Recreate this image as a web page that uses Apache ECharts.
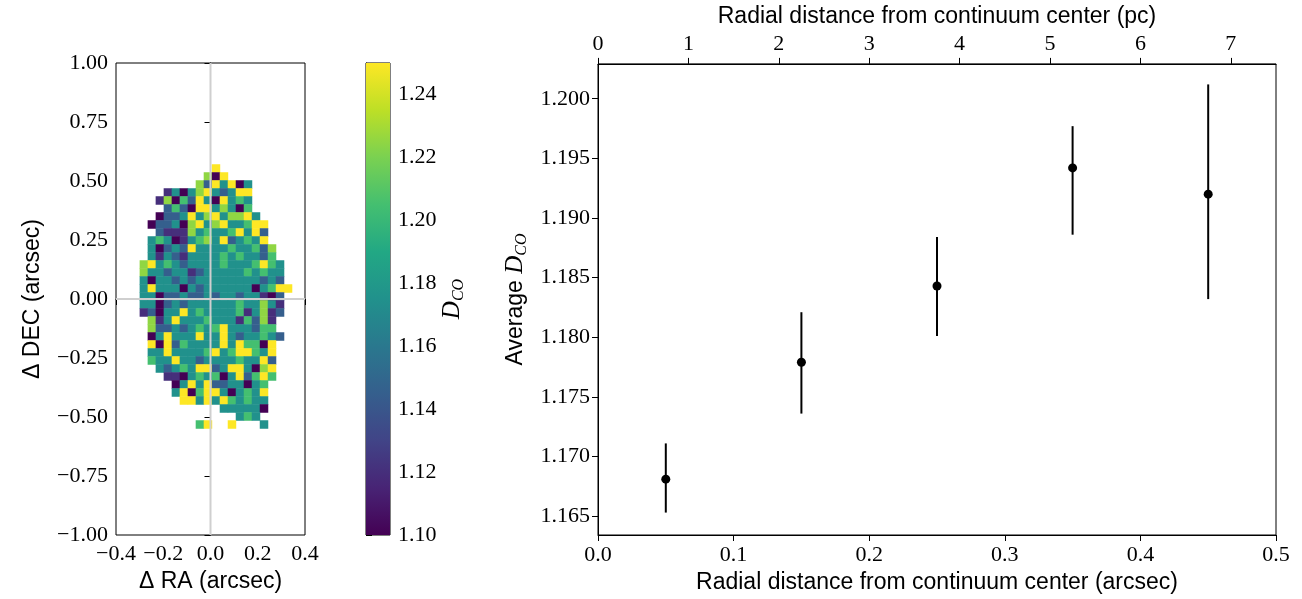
<!DOCTYPE html>
<html><head><meta charset="utf-8">
<script src="https://cdn.jsdelivr.net/npm/echarts@6/dist/echarts.min.js"></script>
<style>html,body{margin:0;padding:0;background:#fff}#c{width:1302px;height:599px}</style>
</head><body><div id="c"></div>
<script>
const _ = null;
// D_CO map, top row first, 19 columns (null = no data)
const mapRows = [
[_,_,_,_,_,_,_,_,_,1.25,_,_,_,_,_,_,_,_,_],
[_,_,_,_,_,_,_,_,1.225,1.10,1.25,_,_,_,_,_,_,_,_],
[_,_,_,_,_,_,_,1.225,1.145,1.25,1.175,1.25,1.10,1.175,_,_,_,_,_],
[_,_,_,1.12,1.175,1.10,1.175,1.225,1.25,1.175,1.145,1.175,1.25,1.25,_,_,_,_,_],
[_,_,1.12,1.225,1.10,1.205,1.145,1.25,1.175,1.10,1.25,1.175,1.205,1.175,_,_,_,_,_],
[_,_,_,1.145,1.205,1.145,1.10,1.25,1.25,1.175,1.225,1.175,1.10,1.205,_,_,_,_,_],
[_,_,1.10,1.145,1.145,1.175,1.25,1.175,1.225,1.25,1.175,1.225,1.225,1.25,1.175,_,_,_,_],
[_,1.10,1.145,1.145,1.175,1.10,1.225,1.25,1.175,1.225,1.25,1.175,1.175,1.205,1.25,1.25,_,_,_],
[_,_,1.145,1.12,1.12,1.12,1.225,1.175,1.205,1.175,1.175,1.205,1.25,1.175,1.25,1.145,_,_,_],
[_,1.175,1.205,1.175,1.10,1.12,1.175,1.205,1.225,1.175,1.25,1.145,1.175,1.205,1.175,1.25,_,_,_],
[_,1.175,1.10,1.145,1.175,1.145,1.25,1.175,1.175,1.175,1.175,1.205,1.175,1.175,1.205,1.145,1.225,_,_],
[_,1.175,1.12,1.175,1.145,1.12,1.175,1.175,1.175,1.175,1.205,1.175,1.205,1.175,1.175,1.145,1.205,_,_],
[1.225,1.25,1.175,1.205,1.175,1.145,1.175,1.175,1.175,1.175,1.205,1.175,1.175,1.175,1.205,1.25,1.205,1.175,_],
[1.225,1.175,1.175,1.145,1.175,1.175,1.12,1.145,1.175,1.175,1.175,1.175,1.175,1.205,1.175,1.205,1.175,1.175,_],
[1.175,1.10,1.175,1.175,1.145,1.175,1.145,1.175,1.175,1.175,1.175,1.175,1.175,1.175,1.175,1.145,1.175,1.145,_],
[1.175,1.25,1.175,1.175,1.175,1.10,1.175,1.145,1.175,1.175,1.175,1.175,1.175,1.175,1.10,1.175,1.205,1.25,1.25],
[1.175,1.175,1.10,1.145,1.145,1.175,1.145,1.145,1.175,1.145,1.175,1.175,1.145,1.175,1.175,1.12,1.10,1.145,_],
[1.175,1.175,1.10,1.145,1.175,1.145,1.175,1.175,1.175,1.175,1.175,1.175,1.205,1.175,1.175,1.225,1.175,1.12,_],
[1.12,1.145,1.10,1.175,1.175,1.25,1.175,1.205,1.175,1.175,1.175,1.175,1.205,1.12,1.175,1.225,1.12,1.145,_],
[_,1.225,1.12,1.175,1.25,1.175,1.175,1.175,1.205,1.175,1.175,1.175,1.12,1.205,1.145,1.225,1.12,_,_],
[_,1.225,1.145,1.145,1.175,1.145,1.175,1.205,1.175,1.205,1.25,1.175,1.175,1.175,1.145,1.205,1.205,_,_],
[_,1.10,1.175,1.25,1.175,1.175,1.175,1.25,1.175,1.175,1.25,1.175,1.145,1.175,1.175,1.205,1.175,1.145,_],
[_,1.25,1.10,1.25,1.145,1.205,1.175,1.175,1.175,1.175,1.25,1.175,1.25,1.205,1.205,1.10,1.25,_,_],
[_,1.175,1.175,1.25,1.175,1.175,1.175,1.175,1.205,1.25,1.175,1.205,1.25,1.25,1.205,1.175,1.25,_,_],
[_,1.205,1.175,1.175,1.25,1.175,1.175,1.145,1.175,1.175,1.175,1.175,1.205,1.175,1.175,1.25,1.145,_,_],
[_,_,1.175,1.145,1.175,1.205,1.175,1.25,1.25,1.145,1.175,1.25,1.25,1.175,1.10,1.225,1.25,_,_],
[_,_,_,1.12,1.12,1.10,1.175,1.205,1.175,1.205,1.10,1.175,1.25,1.145,1.205,1.25,1.205,_,_],
[_,_,_,_,1.10,1.175,1.25,1.175,1.25,1.145,1.145,1.175,1.175,1.10,1.175,1.205,_,_,_],
[_,_,_,_,1.175,1.25,1.10,1.205,1.25,1.25,1.175,1.10,1.175,1.205,1.175,1.25,_,_,_],
[_,_,_,_,_,1.25,1.25,1.175,1.25,1.175,1.25,1.205,1.175,1.205,1.175,1.175,_,_,_],
[_,_,_,_,_,_,_,_,_,_,1.175,1.175,1.175,1.175,1.175,1.10,_,_,_],
[_,_,_,_,_,_,_,_,_,_,_,_,1.175,1.205,1.175,_,_,_,_],
[_,_,_,_,_,_,_,1.205,1.25,_,_,1.25,_,_,_,1.175,_,_,_]
];
const mapCellSize = 0.0339;   // arcsec per map pixel
const mapLeftEdge = -0.300;   // arcsec, RA of left edge of column 0
const mapTopEdge = 0.571;     // arcsec, DEC of top edge of row 0

const radialArcsec = [0.05, 0.15, 0.25, 0.35, 0.45];
const avgDco = [1.1681, 1.1779, 1.1843, 1.1942, 1.1920];
const avgDcoLow = [1.1653, 1.1736, 1.1801, 1.1886, 1.1832];
const avgDcoHigh = [1.1711, 1.1821, 1.1884, 1.1977, 1.2012];

const mapXTicks = [-0.4, -0.2, 0.0, 0.2, 0.4];
const mapYTicks = [-1.0, -0.75, -0.5, -0.25, 0.0, 0.25, 0.5, 0.75, 1.0];
const cbarTicks = [1.10, 1.12, 1.14, 1.16, 1.18, 1.20, 1.22, 1.24];
const avgYTicks = [1.165, 1.170, 1.175, 1.180, 1.185, 1.190, 1.195, 1.200];
const arcsecTicks = [0.0, 0.1, 0.2, 0.3, 0.4, 0.5];
const pcTicks = [0, 1, 2, 3, 4, 5, 6, 7];

const viridis = ['#440154','#482475','#414487','#355f8d','#2a788e','#21918c','#22a884','#44bf70','#7ad151','#bddf26','#fde725'];

const mapData = [];
mapRows.forEach((row, r) => row.forEach((v, c) => {
  if (v !== null) mapData.push([mapLeftEdge + mapCellSize * (c + 0.5), mapTopEdge - mapCellSize * (r + 0.5), v]);
}));

const SERIF = '"Liberation Serif", "DejaVu Serif", serif';
const SANS = '"Liberation Sans", "DejaVu Sans", sans-serif';
const minus = s => s.replace('-', '\u2212');
const tickLbl = (digits) => ({ fontFamily: SERIF, fontSize: 22, color: '#000', formatter: v => minus(Number(v).toFixed(digits)) });
const axisCommon = {
  axisLine: { show: true, lineStyle: { color: '#000', width: 1 } },
  axisTick: { show: true, length: 6, lineStyle: { color: '#000', width: 1 } },
  splitLine: { show: false },
  nameTextStyle: { fontFamily: SANS, fontSize: 23, color: '#000' }
};
const subRich = {
  a: { fontFamily: SANS, fontSize: 23, color: '#000' },
  d: { fontFamily: SERIF, fontStyle: 'italic', fontSize: 25, color: '#000' },
  s: { fontFamily: SERIF, fontStyle: 'italic', fontSize: 16, color: '#000', padding: [12, 0, 0, 0] }
};

const chart = echarts.init(document.getElementById('c'), null, { renderer: 'canvas' });
chart.setOption({
  animation: false,
  backgroundColor: '#fff',
  grid: [
    { left: 116, top: 63, width: 189, height: 472, show: true, borderColor: '#000', borderWidth: 1, backgroundColor: 'transparent' },
    { left: 366, top: 63, width: 24, height: 472, show: true, borderColor: '#000', borderWidth: 1, backgroundColor: 'transparent' },
    { left: 598, top: 60, width: 678, height: 475, show: true, borderColor: '#000', borderWidth: 1, backgroundColor: 'transparent' }
  ],
  visualMap: {
    type: 'continuous', show: false, min: 1.10, max: 1.25, dimension: 2, seriesIndex: 0,
    inRange: { color: viridis }
  },
  xAxis: [
    Object.assign({}, axisCommon, { gridIndex: 0, type: 'value', min: -0.4, max: 0.4, interval: 0.2,
      axisLabel: Object.assign(tickLbl(1), { margin: 8, customValues: mapXTicks }), axisTick: Object.assign({}, axisCommon.axisTick, { customValues: mapXTicks }),
      name: 'Δ RA (arcsec)', nameLocation: 'middle', nameGap: 33 }),
    { gridIndex: 1, type: 'value', min: 0, max: 1, show: false },
    Object.assign({}, axisCommon, { gridIndex: 2, type: 'value', min: 0, max: 0.5,
      axisLabel: Object.assign(tickLbl(1), { margin: 9, customValues: arcsecTicks }), axisTick: Object.assign({}, axisCommon.axisTick, { customValues: arcsecTicks }),
      name: 'Radial distance from continuum center (arcsec)', nameLocation: 'middle', nameGap: 33 }),
    Object.assign({}, axisCommon, { gridIndex: 2, type: 'value', position: 'top', min: 0, max: 7.5,
      axisLabel: Object.assign(tickLbl(0), { margin: 9, customValues: pcTicks }), axisTick: Object.assign({}, axisCommon.axisTick, { customValues: pcTicks }),
      name: 'Radial distance from continuum center (pc)', nameLocation: 'middle', nameGap: 32 })
  ],
  yAxis: [
    Object.assign({}, axisCommon, { gridIndex: 0, type: 'value', min: -1, max: 1, interval: 0.25,
      axisLabel: Object.assign(tickLbl(2), { margin: 8, customValues: mapYTicks }), axisTick: Object.assign({}, axisCommon.axisTick, { customValues: mapYTicks }),
      name: 'Δ DEC (arcsec)', nameLocation: 'middle', nameRotate: 90, nameGap: 72 }),
    Object.assign({}, axisCommon, { gridIndex: 1, type: 'value', position: 'right', min: 1.10, max: 1.25,
      axisLabel: Object.assign(tickLbl(2), { margin: 8, customValues: cbarTicks }), axisTick: Object.assign({}, axisCommon.axisTick, { customValues: cbarTicks }),
      name: '{d|D}{s|CO}', nameLocation: 'middle', nameRotate: 90, nameGap: 48, nameTextStyle: { rich: subRich } }),
    Object.assign({}, axisCommon, { gridIndex: 2, type: 'value', min: 1.16342, max: 1.20292,
      axisLabel: Object.assign(tickLbl(3), { margin: 8, customValues: avgYTicks }), axisTick: Object.assign({}, axisCommon.axisTick, { customValues: avgYTicks }),
      name: '{a|Average }{d|D}{s|CO}', nameLocation: 'middle', nameRotate: 90, nameGap: 68, nameTextStyle: { rich: subRich } })
  ],
  series: [
    {
      type: 'custom', xAxisIndex: 0, yAxisIndex: 0, data: mapData, encode: { x: 0, y: 1 }, z: 2,
      renderItem: (params, api) => {
        const x = api.value(0), y = api.value(1), h = mapCellSize / 2;
        const p1 = api.coord([x - h, y + h]);
        const p2 = api.coord([x + h, y - h]);
        return { type: 'rect', shape: { x: p1[0], y: p1[1], width: p2[0] - p1[0] + 0.5, height: p2[1] - p1[1] + 0.5 },
          style: { fill: api.visual('color') } };
      }
    },
    { type: 'line', xAxisIndex: 0, yAxisIndex: 0, data: [[0, -1], [0, 1]], symbol: 'none', z: 5,
      lineStyle: { color: '#cfcfcf', width: 2 } },
    { type: 'line', xAxisIndex: 0, yAxisIndex: 0, data: [[-0.4, 0], [0.4, 0]], symbol: 'none', z: 5,
      lineStyle: { color: '#cfcfcf', width: 2 } },
    {
      type: 'custom', xAxisIndex: 1, yAxisIndex: 1, data: [[0, 1.10, 1, 1.25]], z: 2,
      renderItem: (params, api) => {
        const p1 = api.coord([api.value(0), api.value(3)]);
        const p2 = api.coord([api.value(2), api.value(1)]);
        const stops = viridis.slice().reverse().map((c, i) => ({ offset: i / (viridis.length - 1), color: c }));
        return { type: 'rect', shape: { x: p1[0], y: p1[1], width: p2[0] - p1[0], height: p2[1] - p1[1] },
          style: { fill: { type: 'linear', x: 0, y: 0, x2: 0, y2: 1, colorStops: stops } } };
      }
    },
    {
      type: 'custom', xAxisIndex: 2, yAxisIndex: 2, z: 3,
      data: radialArcsec.map((x, i) => [x, avgDcoLow[i], avgDcoHigh[i]]),
      encode: { x: 0, y: [1, 2] },
      renderItem: (params, api) => {
        const a = api.coord([api.value(0), api.value(1)]);
        const b = api.coord([api.value(0), api.value(2)]);
        return { type: 'line', shape: { x1: a[0], y1: a[1], x2: b[0], y2: b[1] }, style: { stroke: '#000', lineWidth: 2 } };
      }
    },
    { type: 'scatter', xAxisIndex: 2, yAxisIndex: 2, z: 4, symbol: 'circle', symbolSize: 9,
      itemStyle: { color: '#000', opacity: 1 }, data: radialArcsec.map((x, i) => [x, avgDco[i]]) }
  ]
});
</script></body></html>
